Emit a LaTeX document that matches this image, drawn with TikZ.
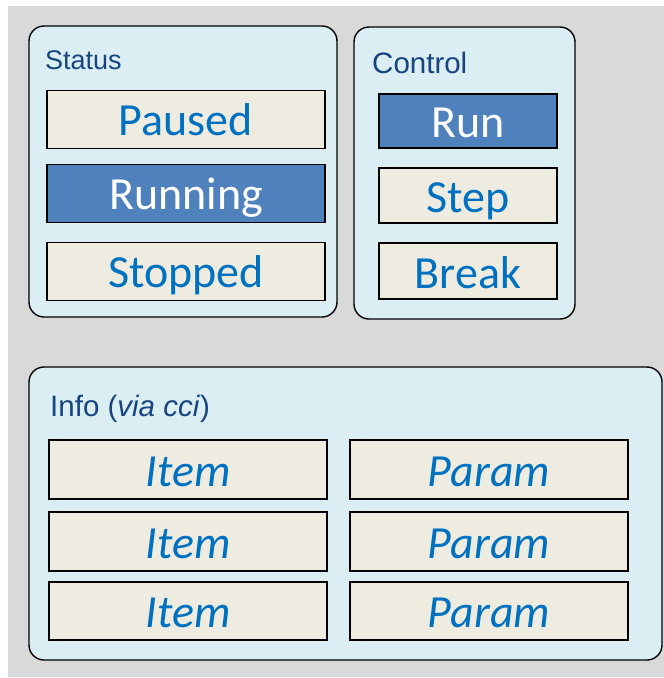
\documentclass[tikz,border=0pt]{standalone}
\usepackage{fontspec}
\setmainfont{Carlito}
\newfontfamily\labfont{Liberation Sans}
\definecolor{pagegray}{HTML}{D9D9D9}
\definecolor{panelblue}{HTML}{DAEEF3}
\definecolor{cellbeige}{HTML}{EEECE1}
\definecolor{cellblue}{HTML}{4F81BD}
\definecolor{textblue}{HTML}{0070C0}
\definecolor{labelnavy}{HTML}{17457F}
\tikzset{
  panel/.style={draw=black, line width=1.4pt, fill=panelblue, rounded corners=15pt},
  cell/.style={draw=black, line width=1.4pt, fill=cellbeige, text=textblue,
    inner sep=0pt, font=\fontsize{46}{46}\selectfont, text height=45pt, text depth=13pt},
  active/.style={cell, fill=cellblue, text=white},
  itemcell/.style={cell, font=\fontsize{46}{46}\selectfont\itshape},
  heading/.style={anchor=base west, inner sep=0pt, text=labelnavy,
    font=\labfont\fontsize{27}{27}\selectfont},
  bigheading/.style={heading, font=\labfont\fontsize{29.5}{29.5}\selectfont},
}
\begin{document}
\begin{tikzpicture}[x=1pt, y=-1pt]
  % page and backdrop
  \useasboundingbox (0,0) rectangle (664,678);
  \fill[white] (0,0) rectangle (664,678);
  \fill[pagegray] (8,6) rectangle (664,677);

  % panels
  \draw[panel] (29,26) rectangle (337,317);
  \draw[panel] (354,27) rectangle (575,319);
  \draw[panel] (29,367) rectangle (662,660);

  % panel headings
  \node[heading] (hstatus) at (45,69) {Status};
  \node[bigheading] (hcontrol) at (372,73) {Control};
  \node[bigheading] (hinfo) at (50,416) {Info (\textit{via cci})};

  % status cells
  \node[cell, minimum width=278pt, minimum height=58pt] (paused) at (186,119.5) {Paused};
  \node[active, minimum width=278pt, minimum height=58pt] (running) at (186,193.5) {Running};
  \node[cell, minimum width=278pt, minimum height=58pt] (stopped) at (186,271.5) {Stopped};

  % control cells
  \node[active, minimum width=178pt, minimum height=54pt, text height=43pt, text depth=11pt] (run) at (468,121) {Run};
  \node[cell, minimum width=178pt, minimum height=55pt, text height=44pt, text depth=11pt] (step) at (468,195.5) {Step};
  \node[cell, minimum width=178pt, minimum height=56pt, text height=45pt, text depth=11pt] (brk) at (468,271) {Break};

  % info cells
  \node[itemcell, minimum width=278pt, minimum height=59pt, text height=46pt] (item1) at (188,469.5) {Item};
  \node[itemcell, minimum width=278pt, minimum height=59pt, text height=46pt] (item2) at (188,541.5) {Item};
  \node[itemcell, minimum width=278pt, minimum height=58pt] (item3) at (188,611) {Item};
  \node[itemcell, minimum width=278pt, minimum height=59pt, text height=46pt] (param1) at (489,469.5) {Param};
  \node[itemcell, minimum width=278pt, minimum height=59pt, text height=46pt] (param2) at (489,541.5) {Param};
  \node[itemcell, minimum width=278pt, minimum height=58pt] (param3) at (489,611) {Param};
\end{tikzpicture}
\end{document}
